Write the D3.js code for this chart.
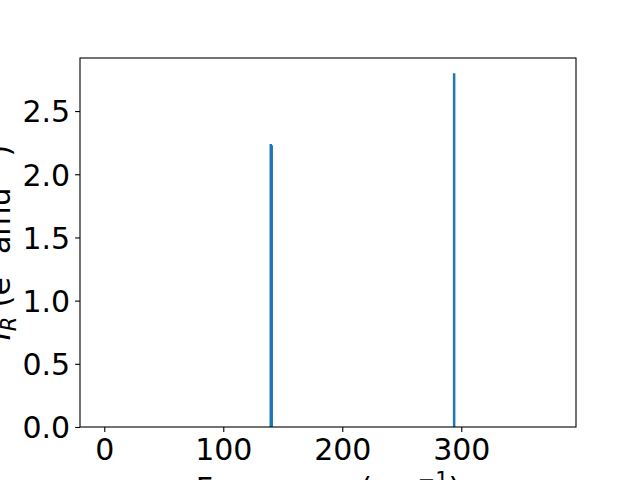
<!DOCTYPE html>
<html>
<head>
<meta charset="utf-8">
<script src="https://cdn.jsdelivr.net/npm/d3@7"></script>
<style>
  body { margin: 0; background: #fff; }
  svg { display: block; font-family: "DejaVu Sans", sans-serif; }
</style>
</head>
<body>
<svg width="640" height="480"></svg>
<script>
// stick spectrum: frequency (cm^-1) and IR intensity
const freqs = [139.9, 140.7, 294.0];
const intensities = [2.24, 2.23, 2.80];
const xTicks = [0, 100, 200, 300];
const yTicks = [0.0, 0.5, 1.0, 1.5, 2.0, 2.5];

const width = 640;
const height = 480;
const margin = {left: 80, right: 64, top: 58, bottom: 53};
const fontSize = 30;

const svg = d3.select('svg');

const x = d3.scaleLinear()
    .domain([-20.4, 396.4])
    .range([margin.left, width - margin.right]);
const y = d3.scaleLinear()
    .domain([0, 2.92])
    .range([height - margin.bottom, margin.top]);

const plot = svg.append('g');

// sticks
plot.selectAll('line.stick')
    .data(freqs)
    .enter().append('line')
    .attr('class', 'stick')
    .attr('x1', d => x(d)).attr('x2', d => x(d))
    .attr('y1', y(0))
    .attr('y2', (d, i) => y(intensities[i]))
    .attr('stroke', '#1f77b4')
    .attr('stroke-width', 2.5);

// axes
const xAxis = d3.axisBottom(x).tickValues(xTicks).tickSize(4.9).tickPadding(5).tickFormat(d3.format('d'));
const yAxis = d3.axisLeft(y).tickValues(yTicks).tickSize(4.9).tickPadding(5).tickFormat(d3.format('.1f'));

const gx = svg.append('g')
    .attr('transform', `translate(0,${height - margin.bottom})`)
    .call(xAxis);
const gy = svg.append('g')
    .attr('transform', `translate(${margin.left},0)`)
    .call(yAxis);

[gx, gy].forEach(g => {
    g.select('.domain').remove();
    g.selectAll('line').attr('stroke', '#000').attr('stroke-width', 1.1);
    g.selectAll('text')
        .attr('fill', '#000')
        .style('font-size', fontSize + 'px')
        .style('font-family', '"DejaVu Sans", sans-serif');
});
gx.selectAll('text').attr('dy', '0.76em');
gy.selectAll('text').attr('dy', '0.36em');

// frame
svg.append('rect')
    .attr('x', margin.left).attr('y', margin.top)
    .attr('width', width - margin.left - margin.right)
    .attr('height', height - margin.top - margin.bottom)
    .attr('fill', 'none')
    .attr('stroke', '#000')
    .attr('stroke-width', 1.1);

// labels
const xl = svg.append('text')
    .attr('x', (margin.left + width - margin.right) / 2)
    .attr('y', 499)
    .attr('text-anchor', 'middle')
    .style('font-size', fontSize + 'px');
xl.append('tspan').text('Frequency (cm');
xl.append('tspan').attr('dy', -12).style('font-size', '21px').text('\u22121');
xl.append('tspan').attr('dy', 12).text(')');

const yl = svg.append('text')
    .attr('transform', `translate(10,${(margin.top + height - margin.bottom) / 2}) rotate(-90)`)
    .attr('text-anchor', 'middle')
    .style('font-size', fontSize + 'px');
yl.append('tspan').style('font-style', 'italic').text('I');
yl.append('tspan').attr('dy', 6).style('font-style', 'italic').style('font-size', '21px').text('R');
yl.append('tspan').attr('dy', -6).text(' (e');
yl.append('tspan').attr('dy', -12).style('font-size', '21px').text('2');
yl.append('tspan').attr('dy', 12).text(' amu');
yl.append('tspan').attr('dy', -12).style('font-size', '21px').text('\u22121');
yl.append('tspan').attr('dy', 12).text(')');
</script>
</body>
</html>
